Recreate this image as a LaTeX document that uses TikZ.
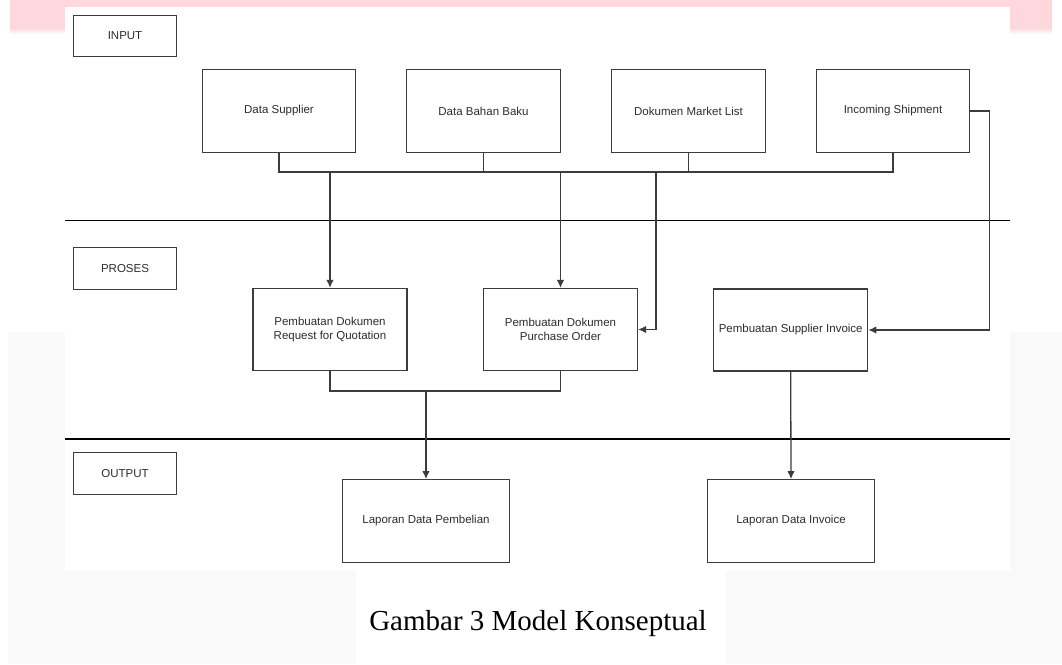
\documentclass[tikz,border=0pt]{standalone}
\usepackage{fontspec}
\setmainfont{Liberation Serif}
\newfontfamily\diafont{Liberation Sans}
\usetikzlibrary{arrows.meta}
\definecolor{pinkband}{RGB}{255,216,221}
\definecolor{bggrey}{RGB}{249,249,249}
\definecolor{boxline}{RGB}{60,60,60}
\definecolor{txt}{RGB}{45,45,45}
\tikzset{
  box/.style={draw=boxline, line width=1.3pt, fill=white, inner sep=2pt,
    font=\diafont\fontsize{11.5}{13.5}\selectfont, text=txt, align=center},
  lbl/.style={box, minimum width=103pt, minimum height=41.5pt},
  inbox/.style={box, minimum width=153.5pt, minimum height=82.5pt},
  pbox/.style={box, minimum width=154pt, minimum height=82pt},
  obox/.style={box, minimum width=166.5pt, minimum height=82.5pt},
  conn/.style={draw=boxline, line width=1.3pt},
  arr/.style={conn, -{Latex[length=8pt,width=7.5pt]}},
  sect/.style={draw=black, line width=1.3pt}
}
\begin{document}
\begin{tikzpicture}[x=1pt,y=-1pt]
\useasboundingbox (0,0) rectangle (1062,664);
% background
\fill[white] (0,0) rectangle (1062,664);
\fill[pinkband] (10,0) rectangle (1052,28);
\shade[top color=pinkband, bottom color=white] (10,28) rectangle (1052,34);
\fill[bggrey] (8,332) rectangle (1062,664);
\fill[white] (65,7) rectangle (1010,571);
\fill[white] (356,571) rectangle (726,664);
% section lines
\coordinate (s1l) at (65,220.5);
\coordinate (s1r) at (1010,220.5);
\coordinate (s2l) at (65,439);
\coordinate (s2r) at (1010,439);
\draw[sect] (s1l) -- (s1r);
\draw[sect] (s2l) -- (s2r);
% section labels
\node[lbl] (input) at (125,36) {INPUT};
\node[lbl] (proses) at (125,268.5) {PROSES};
\node[lbl] (output) at (125,473.5) {OUTPUT};
% input boxes
\node[inbox] (ds) at (279,111) {Data Supplier};
\node[inbox] (db) at (483.5,111) {Data Bahan Baku};
\node[inbox] (ml) at (688.5,111) {Dokumen Market List};
\node[inbox] (is) at (893,111) {Incoming Shipment};
% process boxes
\node[pbox] (rfq) at (330,329.5) {Pembuatan Dokumen\\Request for Quotation};
\node[pbox] (po) at (560.5,329.5) {Pembuatan Dokumen\\Purchase Order};
\node[pbox] (si) at (790.7,330) {Pembuatan Supplier Invoice};
% output boxes
\node[obox] (lp) at (426,521) {Laporan Data Pembelian};
\node[obox] (li) at (791,521) {Laporan Data Invoice};
% bus coordinates
\coordinate (bus) at (0,172);
\coordinate (j3) at (656,172);
\coordinate (bus2) at (0,391);
% input bus
\draw[conn] (ds.south) -- (ds.south |- bus) -| (is.south);
\draw[conn] (db.south) -- (db.south |- bus);
\draw[conn] (ml.south) -- (ml.south |- bus);
\draw[arr] (rfq.north |- bus) -- (rfq.north);
\draw[arr] (po.north |- bus) -- (po.north);
\draw[arr] (j3) |- (po.east);
\draw[arr] (is.east) -- ++(19,0) |- (si.east);
% process to output
\draw[conn] (rfq.south) -- (rfq.south |- bus2) -| (po.south);
\draw[arr] (lp.north |- bus2) -- (lp.north);
\draw[arr] (si.south) -- (li.north);
% caption
\node[anchor=base, font=\fontsize{29}{31}\selectfont, text=black] (cap) at (538,630) {Gambar 3 Model Konseptual};
\end{tikzpicture}
\end{document}
